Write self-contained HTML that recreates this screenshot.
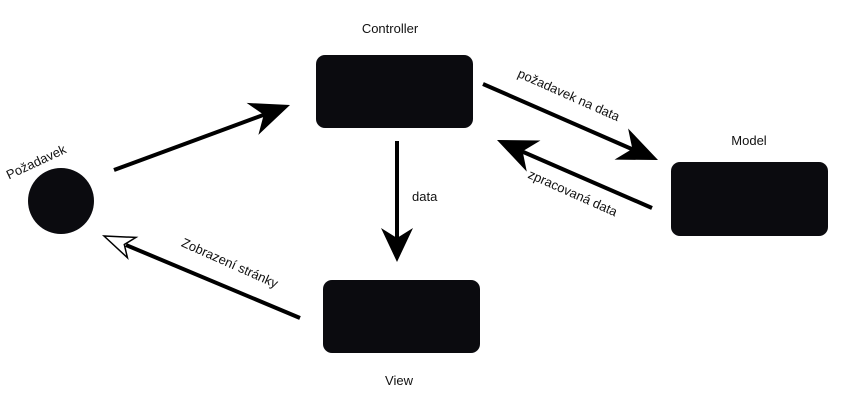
<!DOCTYPE html>
<html><head><meta charset="utf-8"><style>
html,body{margin:0;padding:0;background:#fff;}
svg{display:block;}
text{font-family:"Liberation Sans",sans-serif;font-size:13px;fill:#111;}
</style></head><body>
<svg width="843" height="406" viewBox="0 0 843 406" xmlns="http://www.w3.org/2000/svg">
<rect width="843" height="406" fill="#fff"/>
<circle cx="61" cy="201" r="33" fill="#0b0b0f"/>
<rect x="316" y="55" width="157" height="73" rx="9" fill="#0b0b0f"/>
<rect x="671" y="162" width="157" height="74" rx="9" fill="#0b0b0f"/>
<rect x="323" y="280" width="157" height="73" rx="9" fill="#0b0b0f"/>

<text x="390" y="33" text-anchor="middle">Controller</text>
<text x="749" y="145" text-anchor="middle">Model</text>
<text x="399" y="385" text-anchor="middle">View</text>
<text x="412" y="201">data</text>
<text transform="translate(38,166) rotate(-25)" text-anchor="middle">Požadavek</text>
<text transform="translate(567,99) rotate(24)" text-anchor="middle">požadavek na data</text>
<text transform="translate(571,197) rotate(24)" text-anchor="middle">zpracovaná data</text>
<text transform="translate(228,267) rotate(24)" text-anchor="middle">Zobrazení stránky</text>

<g stroke="#000" stroke-width="4">
<line x1="114" y1="170" x2="266" y2="114"/>
<line x1="483" y1="84" x2="634" y2="150"/>
<line x1="652" y1="208" x2="521" y2="151"/>
<line x1="300" y1="318" x2="126" y2="245"/>
<line x1="397" y1="141" x2="397" y2="240"/>
</g>
<g fill="#000">
<polygon transform="translate(290,105) rotate(-20.3)" points="0,0 -40,-17 -28,0 -40,17"/>
<polygon transform="translate(658,160) rotate(23.5)" points="0,0 -40,-17 -28,0 -40,17"/>
<polygon transform="translate(497,140) rotate(203.7)" points="0,0 -40,-17 -28,0 -40,17"/>
<polygon transform="translate(397,262) rotate(90)" points="0,0 -34,-16 -24,0 -34,16"/>
</g>
<polygon transform="translate(104,236) rotate(202.7)" points="0,0 -30,-11 -22,0 -30,11" fill="#fff" stroke="#000" stroke-width="1.5"/>
</svg>
</body></html>
